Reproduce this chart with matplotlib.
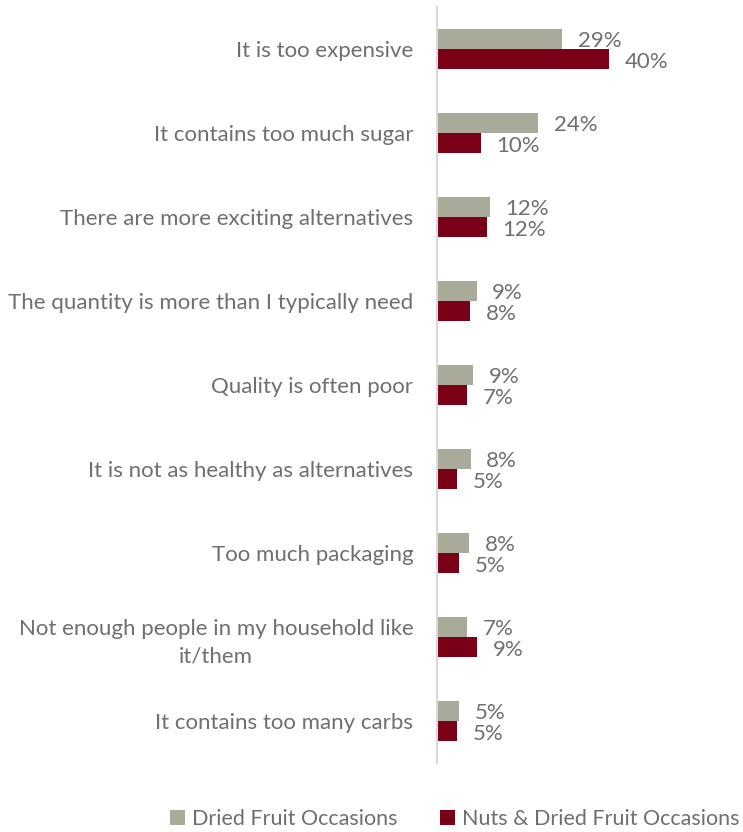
import matplotlib.pyplot as plt
import numpy as np

categories = [
    "It is too expensive",
    "It contains too much sugar",
    "There are more exciting alternatives",
    "The quantity is more than I typically need",
    "Quality is often poor",
    "It is not as healthy as alternatives",
    "Too much packaging",
    "Not enough people in my household like\nit/them",
    "It contains too many carbs",
]
dried_fruit = [29.0, 23.5, 12.3, 9.2, 8.4, 7.8, 7.4, 7.0, 5.2]
nuts_dried = [40.0, 10.2, 11.5, 7.7, 7.0, 4.7, 5.2, 9.3, 4.6]
dried_labels = ["29%", "24%", "12%", "9%", "9%", "8%", "8%", "7%", "5%"]
nuts_labels = ["40%", "10%", "12%", "8%", "7%", "5%", "5%", "9%", "5%"]

gray = "#aaaa9a"
red = "#7a0018"
text_col = "#6f6f6f"
fs = 16
plt.rcParams['font.family'] = ['Lato', 'DejaVu Sans']

fig = plt.figure(figsize=(7.43, 8.32), dpi=100)
ax = fig.add_axes([437 / 743, 69 / 832, 1 - 437 / 743, 756 / 832])

y = np.arange(len(categories))
h = 0.238
b1 = ax.barh(y - h / 2, dried_fruit, height=h, color=gray, label="Dried Fruit Occasions")
b2 = ax.barh(y + h / 2, nuts_dried, height=h, color=red, label="Nuts & Dried Fruit Occasions")

for bar, lab in zip(b1, dried_labels):
    ax.text(bar.get_width() + 3.6, bar.get_y() + bar.get_height() / 2 + 0.02, lab,
            va='center', ha='left', fontsize=fs, color=text_col)
for bar, lab in zip(b2, nuts_labels):
    ax.text(bar.get_width() + 3.6, bar.get_y() + bar.get_height() / 2 + 0.03, lab,
            va='center', ha='left', fontsize=fs, color=text_col)

ax.set_ylim(len(categories) - 0.5, -0.5)
ax.set_xlim(0, 71)
ax.set_yticks(y)
ax.set_yticklabels(categories, fontsize=fs, color=text_col, multialignment='center',
                   linespacing=1.45)
ax.tick_params(axis='y', length=0, pad=17)
ax.set_xticks([])
for s in ['top', 'right', 'bottom']:
    ax.spines[s].set_visible(False)
ax.spines['left'].set_color('#d9d9d9')
ax.spines['left'].set_linewidth(1.5)

leg = fig.legend(handles=[b1, b2], loc='center', bbox_to_anchor=(0.612, 0.016), ncol=2,
                 frameon=False, fontsize=15.5, handlelength=0.7, handleheight=0.7,
                 handletextpad=0.3, columnspacing=2.0)
for t in leg.get_texts():
    t.set_color(text_col)

fig.savefig("out.png", dpi=100)
